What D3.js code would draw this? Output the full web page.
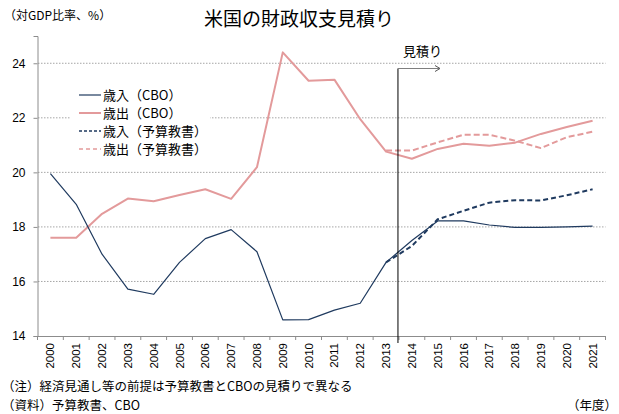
<!DOCTYPE html>
<html>
<head>
<meta charset="utf-8">
<script src="https://cdn.jsdelivr.net/npm/d3@7"></script>
<style>
  body { margin: 0; background: #fff; }
  text { font-family: "Noto Sans CJK JP", "Noto Sans", sans-serif; fill: #000; }
</style>
</head>
<body>
<svg id="chart" width="619" height="414"></svg>
<script>
// years on the x axis
var years = [2000, 2001, 2002, 2003, 2004, 2005, 2006, 2007, 2008, 2009, 2010,
             2011, 2012, 2013, 2014, 2015, 2016, 2017, 2018, 2019, 2020, 2021];

// CBO estimates (% of GDP)
var revenueCBO = [19.95, 18.83, 17.0, 15.72, 15.53, 16.7, 17.57, 17.9, 17.09, 14.59, 14.6,
                  14.95, 15.2, 16.7, 17.5, 18.22, 18.22, 18.07, 17.98, 17.98, 18.0, 18.03];
var outlaysCBO = [17.6, 17.6, 18.48, 19.04, 18.94, 19.17, 19.38, 19.03, 20.19, 24.4, 23.36,
                  23.4, 21.95, 20.76, 20.5, 20.86, 21.05, 20.98, 21.09, 21.41, 21.66, 21.89];

// President's budget, from 2013
var budgetYears = [2013, 2014, 2015, 2016, 2017, 2018, 2019, 2020, 2021];
var revenueBudget = [16.7, 17.3, 18.28, 18.59, 18.89, 18.98, 18.97, 19.16, 19.38];
var outlaysBudget = [20.8, 20.8, 21.1, 21.38, 21.38, 21.16, 20.89, 21.29, 21.49];

var yTicks = [14, 16, 18, 20, 22, 24];

var NAVY = "#1f3a5f";
var PINK = "#e39a9b";

var svg = d3.select("#chart");

var x = d3.scaleBand().domain(years).range([37.5, 605.5]);
var y = d3.scaleLinear().domain([14, 25]).range([336, 36]);

function cx(yr) { return x(yr) + x.bandwidth() / 2; }

// gridlines
svg.append("g").selectAll("line").data(yTicks.filter(function (d) { return d > 14; }))
    .enter().append("line")
    .attr("x1", 38).attr("x2", 605.5)
    .attr("y1", function (d) { return y(d); })
    .attr("y2", function (d) { return y(d); })
    .style("stroke", "#a6a6a6")
    .style("stroke-dasharray", "1.5,1.5")
    .style("stroke-width", 1);

// y axis
var yAxis = d3.axisLeft(y).tickValues(yTicks).tickSize(4).tickFormat(d3.format("d"));
var gy = svg.append("g").attr("transform", "translate(37.5,0)").call(yAxis);
gy.select(".domain").style("stroke", "#8c8c8c");
gy.selectAll(".tick line").style("stroke", "#8c8c8c");
gy.selectAll(".tick text").style("font-size", "12px").attr("x", -12)
    .style("font-family", "Liberation Sans, Arial, sans-serif");

// x axis
var xAxis = d3.axisBottom(x).tickSize(0).tickFormat(d3.format("d"));
var gx = svg.append("g").attr("transform", "translate(0,336)").call(xAxis);
gx.select(".domain").style("stroke", "#8c8c8c");
gx.selectAll(".tick text")
    .style("font-size", "11.5px")
    .style("font-family", "Liberation Sans, Arial, sans-serif")
    .attr("transform", "rotate(-90)")
    .attr("x", -7).attr("y", 0).attr("dy", "0.35em")
    .style("text-anchor", "end");
// tick marks at category boundaries
svg.append("g").selectAll("line").data(years.concat([2022]))
    .enter().append("line")
    .attr("x1", function (d, i) { return 37.5 + i * x.step(); })
    .attr("x2", function (d, i) { return 37.5 + i * x.step(); })
    .attr("y1", 336).attr("y2", 340)
    .style("stroke", "#8c8c8c");

// legend background (hides gridlines)
svg.append("rect").attr("x", 70).attr("y", 83).attr("width", 140).attr("height", 76)
    .style("fill", "#fff");

// lines
var line = d3.line().x(function (d) { return cx(d[0]); }).y(function (d) { return y(d[1]); });

function drawSeries(xs, vals, color, width, dash) {
    var path = svg.append("path")
        .datum(d3.zip(xs, vals))
        .attr("d", line)
        .style("fill", "none")
        .style("stroke", color)
        .style("stroke-width", width)
        .style("stroke-linejoin", "round");
    if (dash) { path.style("stroke-dasharray", dash); }
}

drawSeries(years, outlaysCBO, PINK, 2, null);
drawSeries(budgetYears, outlaysBudget, PINK, 2, "6,3");
drawSeries(years, revenueCBO, NAVY, 1.2, null);
drawSeries(budgetYears, revenueBudget, NAVY, 2, "5,3");

// estimate marker
var xb = 37.5 + years.indexOf(2014) * x.step() - 1;
svg.append("line").attr("x1", xb).attr("x2", xb).attr("y1", 68.5).attr("y2", 343)
    .style("stroke", "#000").style("stroke-width", 1);
svg.append("line").attr("x1", xb).attr("x2", 439).attr("y1", 68.5).attr("y2", 68.5)
    .style("stroke", "#7f7f7f").style("stroke-width", 1.2);
svg.append("path").attr("d", "M435,65.5 L440,68.5 L435,71.5")
    .style("fill", "none").style("stroke", "#555").style("stroke-width", 1);
svg.append("text").attr("x", 403).attr("y", 56).text("見積り").style("font-size", "13px");

// legend
var legendItems = [
    { label: "歳入（CBO）", color: NAVY, dash: null, w: 1.2 },
    { label: "歳出（CBO）", color: PINK, dash: null, w: 2 },
    { label: "歳入（予算教書）", color: NAVY, dash: "3,2", w: 1.5 },
    { label: "歳出（予算教書）", color: PINK, dash: "4,3", w: 1.5 }
];
var lg = svg.append("g").selectAll("g").data(legendItems).enter().append("g")
    .attr("transform", function (d, i) { return "translate(79," + (95 + i * 18) + ")"; });
lg.append("line").attr("x1", 0).attr("x2", 22).attr("y1", 0).attr("y2", 0)
    .style("stroke", function (d) { return d.color; })
    .style("stroke-width", function (d) { return d.w; })
    .style("stroke-dasharray", function (d) { return d.dash; });
lg.append("text").attr("x", 24).attr("y", 0).attr("dy", "0.36em")
    .style("font-size", "13px").text(function (d) { return d.label; });

// titles
svg.append("text").attr("x", 299).attr("y", 26).style("text-anchor", "middle")
    .style("font-size", "19px").text("米国の財政収支見積り");
svg.append("text").attr("x", 4).attr("y", 20).style("font-size", "12px").text("（対GDP比率、%）");

// notes
svg.append("text").attr("x", 2).attr("y", 391).style("font-size", "12.5px")
    .text("（注）経済見通し等の前提は予算教書とCBOの見積りで異なる");
svg.append("text").attr("x", 2).attr("y", 410).style("font-size", "12.5px")
    .text("（資料）予算教書、CBO");
svg.append("text").attr("x", 617).attr("y", 410).style("text-anchor", "end")
    .style("font-size", "12.5px").text("（年度）");
</script>
</body>
</html>
